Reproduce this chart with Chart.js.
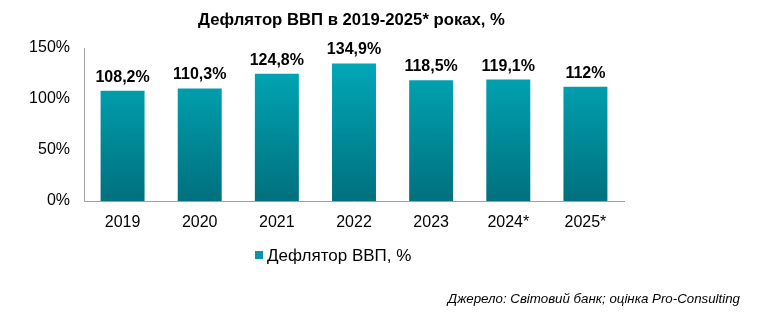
<!DOCTYPE html>
<html><head><meta charset="utf-8">
<script src="https://cdn.jsdelivr.net/npm/chart.js@4/dist/chart.umd.min.js"></script>
<style>html,body{margin:0;padding:0;background:#fff}#wrap{width:757px;height:322px}</style>
</head><body><div id="wrap"><canvas id="c" width="757" height="322"></canvas></div>
<script>
const categories = ['2019','2020','2021','2022','2023','2024*','2025*'];
const values = [108.2, 110.3, 124.8, 134.9, 118.5, 119.1, 112];
const valueLabels = ['108,2%','110,3%','124,8%','134,9%','118,5%','119,1%','112%'];
const yTicks = [0, 50, 100, 150];
const seriesName = 'Дефлятор ВВП, %';
const titleText = 'Дефлятор ВВП в 2019-2025* роках, %';
const sourceText = 'Джерело: Світовий банк; оцінка Pro-Consulting';

const FONT = '"Liberation Sans", Arial, sans-serif';

function grad(ctx) {
  const ch = ctx.chart; const a = ch.chartArea;
  if (!a) return '#00a0b0';
  const g = ch.ctx.createLinearGradient(0, a.top, 0, a.bottom);
  g.addColorStop(0, '#00aebd');
  g.addColorStop(1, '#00707e');
  return g;
}

const extras = {
  id: 'extras',
  afterDatasetsDraw(chart) {
    const c = chart.ctx;
    const meta = chart.getDatasetMeta(0);
    c.save();
    c.fillStyle = '#000';
    c.font = 'bold 16px ' + FONT;
    c.textAlign = 'center';
    c.textBaseline = 'alphabetic';
    meta.data.forEach((bar, i) => {
      c.fillText(valueLabels[i], bar.x, bar.y - 9);
    });
    // title
    c.font = 'bold 16.7px ' + FONT;
    c.fillText(titleText, 351.5, 25);
    // legend
    c.fillStyle = '#0a97a5';
    c.fillRect(255, 251, 8, 8);
    c.fillStyle = '#000';
    c.font = '17px ' + FONT;
    c.textAlign = 'left';
    c.fillText(seriesName, 267, 261);
    // source
    c.font = 'italic 13.3px ' + FONT;
    c.textAlign = 'right';
    c.fillStyle = '#000';
    c.fillText(sourceText, 740, 303);
    c.restore();
  }
};

new Chart(document.getElementById('c'), {
  type: 'bar',
  data: {
    labels: categories,
    datasets: [{
      label: seriesName,
      data: values,
      backgroundColor: grad,
      categoryPercentage: 1,
      barPercentage: 0.57
    }]
  },
  options: {
    responsive: false,
    animation: false,
    devicePixelRatio: 1,
    layout: { padding: { left: 0, right: 133, top: 48, bottom: 86 } },
    plugins: { legend: { display: false }, title: { display: false }, tooltip: { enabled: false } },
    scales: {
      x: {
        grid: { display: false, drawTicks: false },
        border: { display: true, color: '#a0a0a0', width: 1 },
        ticks: { color: '#000', font: { family: FONT, size: 16 }, padding: 12 },
        afterFit(s) { s.height = 35; }
      },
      y: {
        min: 0, max: 150,
        afterBuildTicks(s) { s.ticks = yTicks.map(v => ({ value: v })); },
        grid: { display: false, drawTicks: false },
        border: { display: true, color: '#a0a0a0', width: 1 },
        ticks: { color: '#000', font: { family: FONT, size: 16 }, padding: 14, callback: v => v + '%' },
        afterFit(s) { s.width = 84; }
      }
    }
  },
  plugins: [extras]
});
</script></body></html>
